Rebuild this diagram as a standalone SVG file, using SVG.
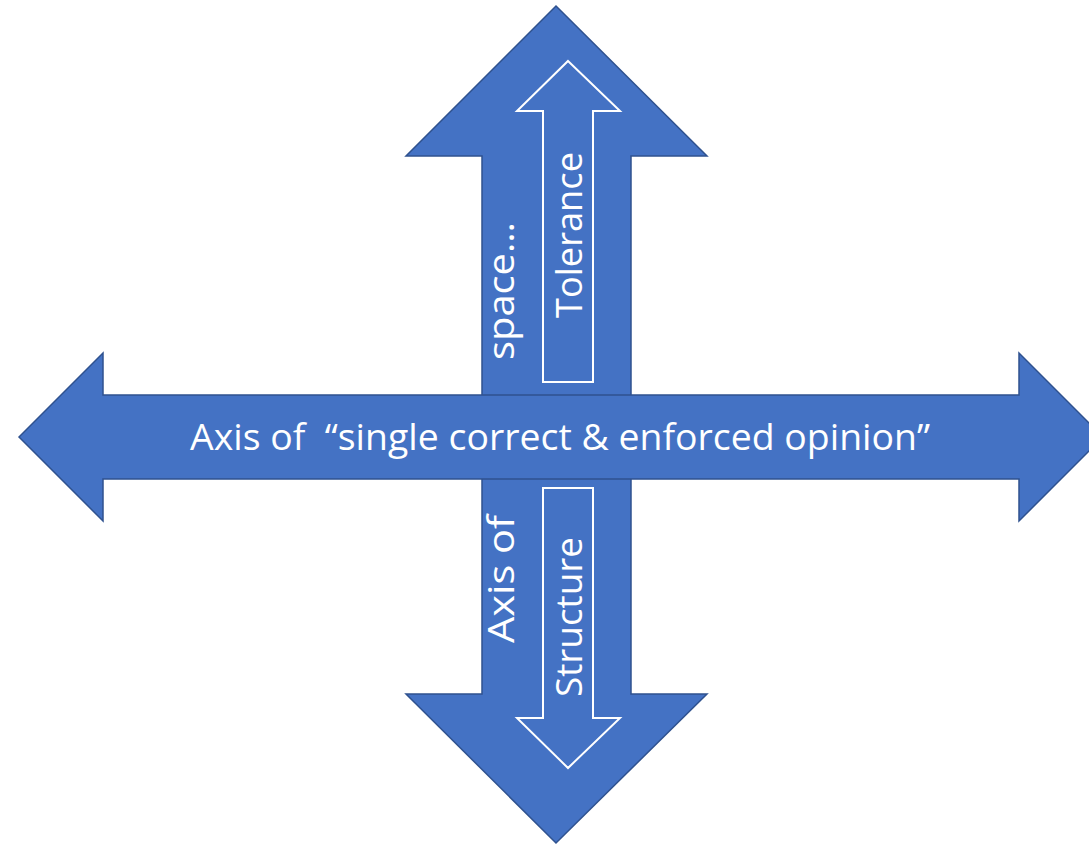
<svg xmlns="http://www.w3.org/2000/svg" width="1089" height="846" viewBox="0 0 1089 846">
<style>
.big{fill:#4472C4;stroke:#2F528F;stroke-width:1.5;stroke-linejoin:miter}
.inner{fill:none;stroke:#FFFFFF;stroke-width:2}
.lbl{fill:#FFFFFF;font-family:"Open Sans","Noto Sans","Liberation Sans",sans-serif;font-size:37px;white-space:pre}
</style>
<rect width="1089" height="846" fill="#FFFFFF"/>
<g id="connectors">
<g id="vertical-arrow">
<polygon class="big" points="556,6 707,156 631,156 631,694 707,694 556,843 406,694 482,694 482,156 406,156"/>
</g>
<g id="horizontal-arrow">
<polygon class="big" points="19,437 103,353 103,395 1019,395 1019,353 1103,437 1019,521 1019,479 103,479 103,521"/>
<text class="lbl" xml:space="preserve" x="190" y="450" textLength="740" lengthAdjust="spacingAndGlyphs">Axis of  “single correct &amp; enforced opinion”</text>
</g>
</g>
<g id="tolerance">
<polygon class="inner" points="568,61 620,111 593,111 593,382 543,382 543,111 517,111"/>
<text class="lbl" transform="translate(582,318) rotate(-90)" textLength="166" lengthAdjust="spacingAndGlyphs">Tolerance</text>
</g>
<g id="structure">
<polygon class="inner" points="543,488 593,488 593,718 620,718 568,768 517,718 543,718"/>
<text class="lbl" transform="translate(582,697) rotate(-90)" textLength="160" lengthAdjust="spacingAndGlyphs">Structure</text>
</g>
<g id="axis-label">
<text class="lbl" transform="translate(514,643) rotate(-90)" textLength="128" lengthAdjust="spacingAndGlyphs">Axis of</text>
<text class="lbl" transform="translate(514,360) rotate(-90)" textLength="138" lengthAdjust="spacingAndGlyphs">space…</text>
</g>
</svg>
